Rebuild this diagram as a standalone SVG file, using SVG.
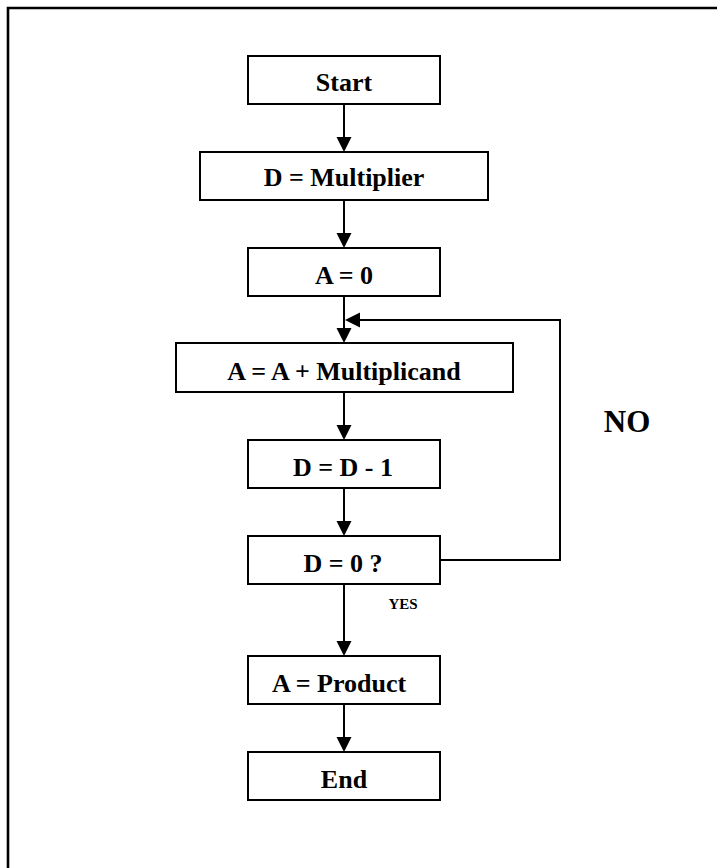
<svg xmlns="http://www.w3.org/2000/svg" width="717" height="868" viewBox="0 0 717 868">
<style>
.box{fill:#fff;stroke:#000;stroke-width:2}
.lbl{font-family:"Liberation Serif","Times New Roman",serif;font-weight:bold;font-size:26px;text-anchor:middle;fill:#000}
.ln{stroke:#000;stroke-width:2;fill:none}
.hd{fill:#000}
</style>
<rect width="717" height="868" fill="#fff"/>
<g id="frame"><path d="M8 868 V8 H717" fill="none" stroke="#000" stroke-width="2.6"/></g>
<g id="connectors">
<path class="ln" d="M344 104 V140"/><path class="hd" d="M344 152 L336.5 137 L351.5 137 Z"/>
<path class="ln" d="M344 200 V236"/><path class="hd" d="M344 248 L336.5 233 L351.5 233 Z"/>
<path class="ln" d="M344 296 V331"/><path class="hd" d="M344 343 L336.5 328 L351.5 328 Z"/>
<path class="ln" d="M344 392 V428"/><path class="hd" d="M344 440 L336.5 425 L351.5 425 Z"/>
<path class="ln" d="M344 488 V524"/><path class="hd" d="M344 536 L336.5 521 L351.5 521 Z"/>
<path class="ln" d="M344 584 V644"/><path class="hd" d="M344 656 L336.5 641 L351.5 641 Z"/>
<path class="ln" d="M344 704 V740"/><path class="hd" d="M344 752 L336.5 737 L351.5 737 Z"/>
<path class="ln" d="M440 560 H560 V320 H356"/><path class="hd" d="M345 320 L360 312.5 L360 327.5 Z"/>
<text class="lbl" x="627" y="432" style="font-size:31px">NO</text>
<text class="lbl" x="403" y="609" style="font-size:15px">YES</text>
</g>
<g id="start"><rect class="box" x="248" y="56" width="192" height="48"/><text class="lbl" x="344" y="91">Start</text></g>
<g id="d-mult"><rect class="box" x="200" y="152" width="288" height="48"/><text class="lbl" x="344" y="186">D = Multiplier</text></g>
<g id="a-zero"><rect class="box" x="248" y="248" width="192" height="48"/><text class="lbl" x="344" y="284">A = 0</text></g>
<g id="a-add"><rect class="box" x="176" y="343" width="337" height="49"/><text class="lbl" x="344" y="380">A = A + Multiplicand</text></g>
<g id="d-dec"><rect class="box" x="248" y="440" width="192" height="48"/><text class="lbl" x="343" y="476">D = D - 1</text></g>
<g id="d-test"><rect class="box" x="248" y="536" width="192" height="48"/><text class="lbl" x="343" y="572">D = 0 ?</text></g>
<g id="a-product"><rect class="box" x="248" y="656" width="192" height="48"/><text class="lbl" x="339" y="692">A = Product</text></g>
<g id="end"><rect class="box" x="248" y="752" width="192" height="48"/><text class="lbl" x="344" y="788">End</text></g>
</svg>
